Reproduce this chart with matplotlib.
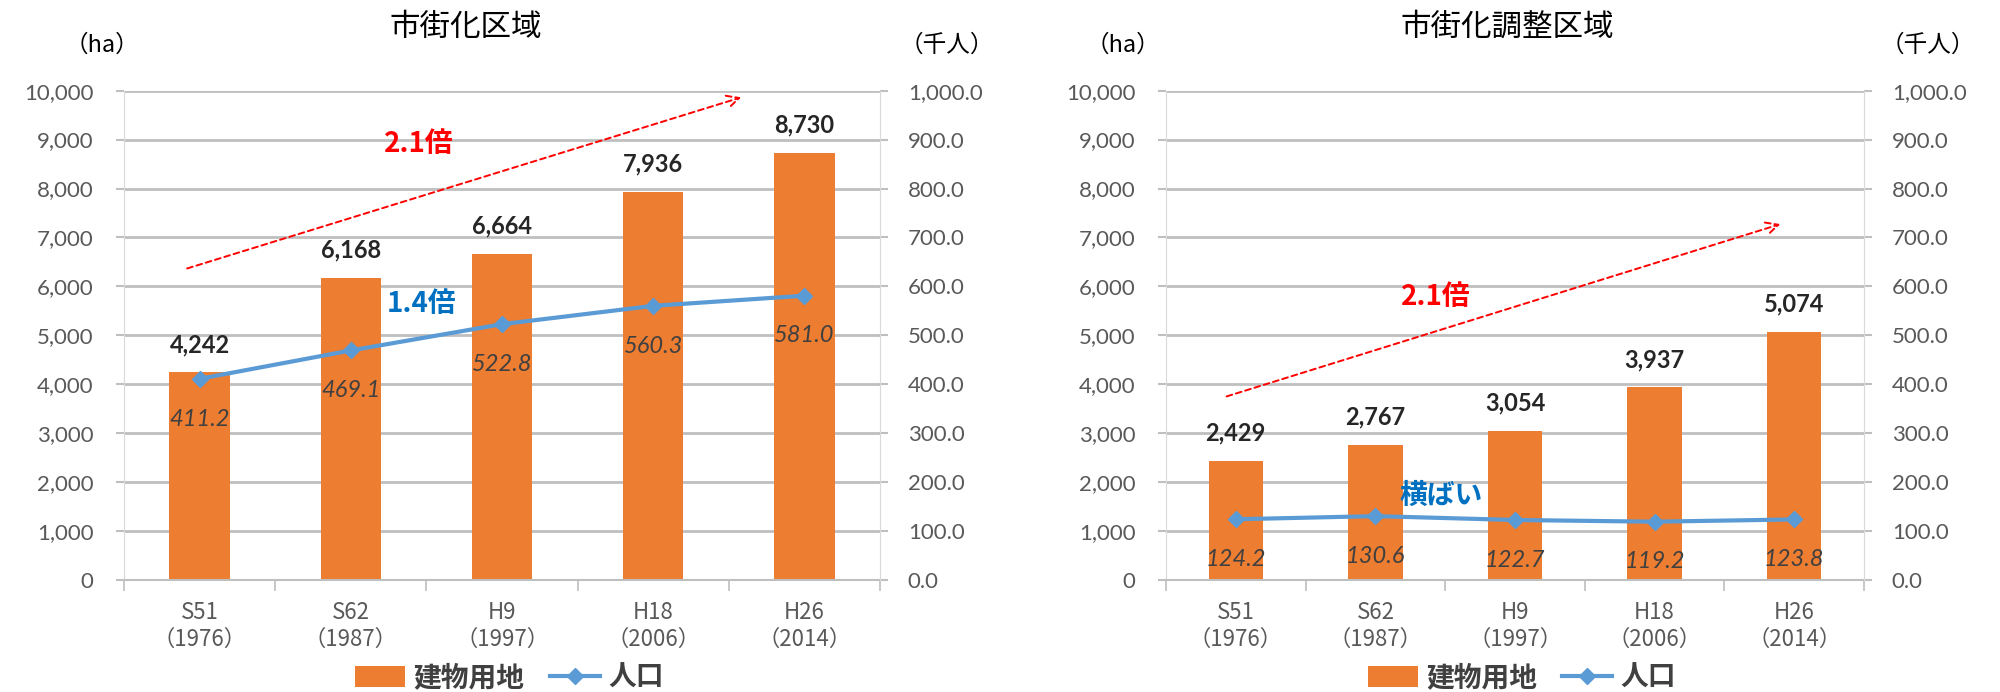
import matplotlib
matplotlib.use("Agg")
import matplotlib.pyplot as plt
from matplotlib.lines import Line2D
from matplotlib.patches import Patch

plt.rcParams['font.family'] = ['Lato', 'Noto Sans CJK JP', 'DejaVu Sans']

# ---- data ----
categories = ["S51\n（1976）", "S62\n（1987）", "H9\n（1997）", "H18\n（2006）", "H26\n（2014）"]
urban_land = [4242, 6168, 6664, 7936, 8730]
urban_pop = [411.2, 469.1, 522.8, 560.3, 581.0]
adjust_land = [2429, 2767, 3054, 3937, 5074]
adjust_pop = [124.2, 130.6, 122.7, 119.2, 123.8]
titles = ["市街化区域", "市街化調整区域"]
legend_labels = ["建物用地", "人口"]

BAR = "#ED7D31"
LINE = "#5B9BD5"
GRID = "#BFBFBF"
TICKC = "#595959"
JP = ['Noto Sans CJK JP', 'DejaVu Sans']

fig = plt.figure(figsize=(20, 6.92), dpi=100)


def make_panel(rect, land, pop, title, bar_w, notes, arrow, pos):
    ax = fig.add_axes(rect)
    x = list(range(len(categories)))
    ax.set_axisbelow(True)
    ax.bar(x, land, width=bar_w, color=BAR, zorder=2)
    ax.set_xlim(-0.5, len(categories) - 0.5)
    ax.set_ylim(0, 10000)
    ax.set_yticks(range(0, 10001, 1000))
    ax.set_yticklabels([f"{v:,}" for v in range(0, 10001, 1000)])
    ax.yaxis.grid(True, color=GRID, linewidth=2.0)
    ax.tick_params(axis='y', length=6, width=1.5, color=GRID, pad=16,
                   labelsize=16, labelcolor=TICKC)
    ax.set_xticks(x)
    ax.set_xticklabels(categories, fontsize=16, color=TICKC, linespacing=1.2,
                       family=JP)
    ax.tick_params(axis='x', length=0, pad=15)
    ax.set_xticks([i - 0.5 for i in range(len(categories) + 1)], minor=True)
    ax.tick_params(axis='x', which='minor', length=8, width=1.2, color=GRID)
    for s in ['top', 'right']:
        ax.spines[s].set_visible(False)
    ax.spines['left'].set_color('#D9D9D9')
    ax.spines['bottom'].set_color(GRID)
    ax.spines['bottom'].set_linewidth(1.5)
    for xi, v in zip(x, land):
        ax.annotate(f"{v:,}", (xi, v), xytext=(0, 20), textcoords='offset points',
                    ha='center', va='center', fontsize=17, fontweight='bold',
                    color='#262626', zorder=5)

    ax2 = ax.twinx()
    ax2.set_ylim(0, 1000)
    ax2.set_yticks(range(0, 1001, 100))
    ax2.set_yticklabels([f"{v:,.1f}" for v in range(0, 1001, 100)])
    ax2.tick_params(axis='y', length=6, width=1.5, color=GRID, pad=14,
                    labelsize=16, labelcolor=TICKC)
    for s in ['top', 'left', 'bottom']:
        ax2.spines[s].set_visible(False)
    ax2.spines['right'].set_color('#D9D9D9')
    ax2.plot(x, pop, color=LINE, linewidth=3, marker='D', markersize=8,
             zorder=3)
    for xi, v in zip(x, pop):
        ax2.annotate(f"{v:.1f}", (xi, v), xytext=(0, -29), textcoords='offset points',
                     ha='center', va='center', fontsize=17, fontstyle='italic',
                     color='#404040', zorder=5)

    # titles and unit labels
    ax.text(*pos['title'], title, transform=ax.transAxes, ha='center', va='center',
            fontsize=22, family=JP, color='black')
    ax.text(*pos['ha'], "（ha）", transform=ax.transAxes, ha='center',
            va='center', fontsize=17, family=JP, color='black')
    ax.text(*pos['sen'], "（千人）", transform=ax.transAxes, ha='center',
            va='center', fontsize=17, family=JP, color='black')

    # annotations
    (x0, y0), (x1, y1) = arrow
    ax.annotate("", xy=(x1, y1), xytext=(x0, y0),
                arrowprops=dict(arrowstyle='->', color='red', linestyle=(0, (3, 2)),
                                linewidth=1.4, mutation_scale=22), zorder=6)
    for (tx, ty, txt, col) in notes:
        ax.text(tx, ty, txt, ha='center', va='center', fontsize=20,
                fontweight='bold', color=col, family=JP, zorder=6)

    handles = [Patch(facecolor=BAR, edgecolor='none'),
               Line2D([], [], color=LINE, linewidth=3, marker='D', markersize=8)]
    leg = ax.legend(handles, legend_labels, loc='center', bbox_to_anchor=(0.51, -0.2),
                    ncol=2, frameon=False, handlelength=1.8, handleheight=0.8,
                    handletextpad=0.3, columnspacing=0.9,
                    prop=dict(family=JP, size=20, weight='bold'))
    for t in leg.get_texts():
        t.set_color('#404040')
    return ax


# left panel
make_panel([0.062, 0.1618, 0.378, 0.7072], urban_land, urban_pop, titles[0], 0.40,
           [(1.45, 8900, "2.1倍", "red"), (1.47, 5650, "1.4倍", "#0070C0")],
           ((-0.10, 6350), (3.60, 9880)),
           {'title': (0.452, 1.13), 'ha': (-0.029, 1.093), 'sen': (1.089, 1.093)})

# right panel
make_panel([0.583, 0.1618, 0.349, 0.7072], adjust_land, adjust_pop, titles[1], 0.39,
           [(1.43, 5780, "2.1倍", "red"), (1.47, 1710, "横ばい", "#0070C0")],
           ((-0.085, 3735), (3.92, 7290)),
           {'title': (0.489, 1.13), 'ha': (-0.062, 1.093), 'sen': (1.092, 1.093)})

fig.savefig("out.png", dpi=100, facecolor='white')
